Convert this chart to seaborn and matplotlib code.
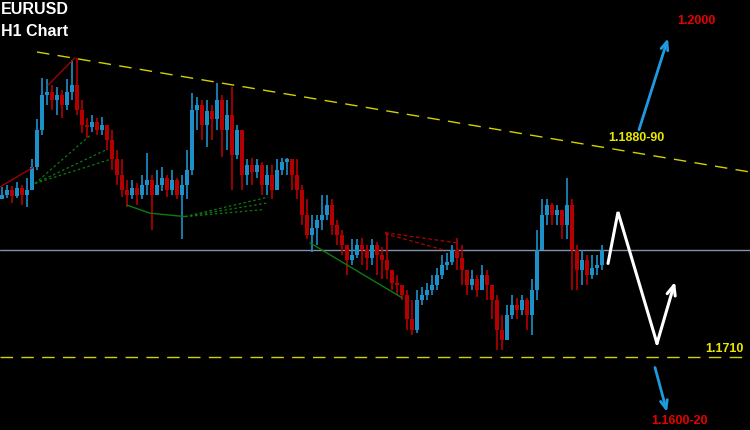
import matplotlib
matplotlib.use("Agg")
import matplotlib.pyplot as plt
import seaborn as sns
import numpy as np
import pandas as pd

# EURUSD H1 candles (prices)
first_open = 1.1848
close = [1.1852, 1.1856, 1.1851, 1.1858, 1.1852, 1.1856, 1.1876, 1.1909, 1.1939, 1.1942,
         1.1935, 1.1939, 1.1931, 1.1942, 1.1948, 1.1926, 1.1913, 1.1911, 1.1916, 1.1909,
         1.1913, 1.1900, 1.1883, 1.1869, 1.1856, 1.1852, 1.1858, 1.1852, 1.1861, 1.1865,
         1.1852, 1.1861, 1.1867, 1.1856, 1.1865, 1.1852, 1.1861, 1.1874, 1.1926, 1.1931,
         1.1913, 1.1925, 1.1918, 1.1935, 1.1909, 1.1922, 1.1887, 1.1909, 1.1869, 1.1878,
         1.1872, 1.1878, 1.1861, 1.1869, 1.1856, 1.1874, 1.1881, 1.1883, 1.1869, 1.1856,
         1.1834, 1.1817, 1.1823, 1.1830, 1.1834, 1.1843, 1.1826, 1.1817, 1.1808, 1.1795,
         1.1799, 1.1808, 1.1804, 1.1797, 1.1808, 1.1799, 1.1795, 1.1786, 1.1775, 1.1773,
         1.1764, 1.1743, 1.1734, 1.1760, 1.1764, 1.1769, 1.1773, 1.1782, 1.1791, 1.1793,
         1.1804, 1.1797, 1.1786, 1.1773, 1.1778, 1.1769, 1.1782, 1.1773, 1.1760, 1.1734,
         1.1725, 1.1747, 1.1756, 1.1751, 1.1760, 1.1747, 1.1769, 1.1804, 1.1834, 1.1843,
         1.1834, 1.1839, 1.1826, 1.1843, 1.1804, 1.1786, 1.1795, 1.1782, 1.1788, 1.1791,
         1.1804]
high = [1.1859, 1.1861, 1.1860, 1.1863, 1.1861, 1.1867, 1.1883, 1.1918, 1.1954, 1.1953,
        1.1948, 1.1946, 1.1944, 1.1953, 1.1970, 1.1972, 1.1935, 1.1919, 1.1922, 1.1919,
        1.1920, 1.1913, 1.1909, 1.1891, 1.1883, 1.1865, 1.1865, 1.1862, 1.1869, 1.1889,
        1.1869, 1.1874, 1.1876, 1.1869, 1.1874, 1.1867, 1.1869, 1.1891, 1.1941, 1.1938,
        1.1935, 1.1935, 1.1931, 1.1950, 1.1939, 1.1935, 1.1946, 1.1913, 1.1887, 1.1883,
        1.1884, 1.1883, 1.1881, 1.1878, 1.1878, 1.1883, 1.1884, 1.1884, 1.1883, 1.1883,
        1.1861, 1.1848, 1.1834, 1.1834, 1.1852, 1.1852, 1.1848, 1.1830, 1.1821, 1.1808,
        1.1813, 1.1813, 1.1814, 1.1808, 1.1813, 1.1811, 1.1806, 1.1819, 1.1786, 1.1782,
        1.1773, 1.1769, 1.1760, 1.1769, 1.1771, 1.1775, 1.1782, 1.1788, 1.1799, 1.1801,
        1.1808, 1.1814, 1.1808, 1.1786, 1.1786, 1.1782, 1.1791, 1.1786, 1.1773, 1.1764,
        1.1747, 1.1756, 1.1764, 1.1762, 1.1764, 1.1762, 1.1778, 1.1821, 1.1848, 1.1848,
        1.1845, 1.1843, 1.1839, 1.1867, 1.1848, 1.1808, 1.1804, 1.1799, 1.1799, 1.1799,
        1.1808]
low = [1.1848, 1.1849, 1.1845, 1.1849, 1.1843, 1.1841, 1.1861, 1.1874, 1.1904, 1.1931,
       1.1926, 1.1922, 1.1919, 1.1926, 1.1935, 1.1922, 1.1906, 1.1902, 1.1907, 1.1904,
       1.1904, 1.1891, 1.1874, 1.1861, 1.1850, 1.1841, 1.1848, 1.1843, 1.1848, 1.1852,
       1.1821, 1.1852, 1.1855, 1.1850, 1.1852, 1.1848, 1.1813, 1.1848, 1.1869, 1.1909,
       1.1900, 1.1894, 1.1900, 1.1909, 1.1885, 1.1891, 1.1856, 1.1883, 1.1856, 1.1861,
       1.1861, 1.1867, 1.1852, 1.1852, 1.1848, 1.1861, 1.1869, 1.1869, 1.1856, 1.1848,
       1.1826, 1.1813, 1.1802, 1.1808, 1.1821, 1.1830, 1.1817, 1.1808, 1.1799, 1.1782,
       1.1791, 1.1797, 1.1791, 1.1786, 1.1791, 1.1782, 1.1778, 1.1778, 1.1769, 1.1764,
       1.1760, 1.1734, 1.1729, 1.1731, 1.1756, 1.1760, 1.1764, 1.1769, 1.1778, 1.1786,
       1.1791, 1.1786, 1.1773, 1.1764, 1.1769, 1.1763, 1.1769, 1.1760, 1.1743, 1.1716,
       1.1716, 1.1729, 1.1743, 1.1743, 1.1747, 1.1734, 1.1729, 1.1760, 1.1804, 1.1826,
       1.1826, 1.1826, 1.1813, 1.1813, 1.1769, 1.1769, 1.1773, 1.1773, 1.1778, 1.1782,
       1.1786]

# levels and drawn studies, as (bar, price) points
resistance_line = [(7.0, 1.1977), (149.6, 1.1872)]
support_level = 1.1710
current_price = 1.1804
red_lines = [[(-0.4, 1.1859), (6.2, 1.1876)], [(9.2, 1.1948), (14.6, 1.1972)]]
red_dashed = [[(76.6, 1.1819), (91.0, 1.1810)], [(76.6, 1.1818), (88.2, 1.1804)]]
green_lines = [[(25.0, 1.1843), (29.6, 1.1836), (36.6, 1.1833)],
               [(61.6, 1.1810), (80.0, 1.1762)]]
green_dotted = [[(6.6, 1.1862), (17.6, 1.1904)], [(6.6, 1.1862), (20.6, 1.1891)],
                [(6.6, 1.1862), (21.6, 1.1883)], [(36.6, 1.1833), (53.2, 1.1850)],
                [(36.6, 1.1833), (53.2, 1.1845)], [(36.6, 1.1833), (52.0, 1.1839)]]
forecast_path = [(121.2, 1.1792), (123.2, 1.1837), (131.0, 1.1722), (134.6, 1.1776)]
target_up = [(127.4, 1.1909), (133.2, 1.1989)]
target_down = [(130.6, 1.1701), (133.0, 1.1662)]

BLUE = "#1e90c8"
RED = "#b40000"
YELLOW = "#d2d200"

sns.set_style("dark", {"axes.facecolor": "black", "figure.facecolor": "black"})

df = pd.DataFrame({"close": close, "high": high, "low": low})
df["open"] = [first_open] + close[:-1]
df["bar"] = np.arange(len(df))
df["up"] = df["close"] >= df["open"]
df["high"] = df[["high", "open", "close"]].max(axis=1)
df["low"] = df[["low", "open", "close"]].min(axis=1)
colors = np.where(df["up"], BLUE, RED)

fig = plt.figure(figsize=(7.5, 4.3), dpi=100)
ax = fig.add_axes([0, 0, 1, 1])
ax.set_facecolor("black")

ax.vlines(df["bar"], df["low"], df["high"], colors=colors, lw=1.2, zorder=3)
body = np.maximum((df["close"] - df["open"]).abs(), 0.00004)
ax.bar(df["bar"], body, bottom=df[["open", "close"]].min(axis=1),
       width=0.7, color=colors, linewidth=0, zorder=3)

# horizontal levels
ax.axhline(current_price, color="#8391a6", lw=1.0, zorder=2)
ax.axhline(support_level, color=YELLOW, lw=1.0, dashes=(9, 6), zorder=2)
(x0, y0), (x1, y1) = resistance_line
ax.plot([x0, x1], [y0, y1], color=YELLOW, lw=1.0, dashes=(9, 6), zorder=2)

for seg in red_lines:
    xs, ys = zip(*seg)
    ax.plot(xs, ys, color="#b00000", lw=0.9, zorder=4)
for seg in red_dashed:
    xs, ys = zip(*seg)
    ax.plot(xs, ys, color="#b00000", lw=0.9, dashes=(3, 2), zorder=4)
for seg in green_lines:
    xs, ys = zip(*seg)
    sns.lineplot(x=list(xs), y=list(ys), ax=ax, color="#0f7a0f", lw=1.0, sort=False, zorder=4)
for seg in green_dotted:
    xs, ys = zip(*seg)
    ax.plot(xs, ys, color="#0f7a0f", lw=0.9, dashes=(2, 2), zorder=4)

# forecast zigzag
fx, fy = zip(*forecast_path)
ax.plot(fx[:-1], fy[:-1], color="white", lw=2.2, solid_joinstyle="miter", zorder=5)
ax.annotate("", xy=forecast_path[-1], xytext=forecast_path[-2],
            arrowprops=dict(arrowstyle="->,head_length=0.7,head_width=0.3",
                            color="white", lw=2.2, shrinkA=0, shrinkB=0), zorder=5)
for start, end in [target_up, target_down]:
    ax.annotate("", xy=end, xytext=start,
                arrowprops=dict(arrowstyle="->,head_length=0.6,head_width=0.25",
                                color="#1e9be0", lw=2.0, shrinkA=0, shrinkB=0), zorder=5)

ax.set_xlim(-0.4, 149.6)
ax.set_ylim(1.16463, 1.20225)
ax.set_xticks([])
ax.set_yticks([])
for s in ax.spines.values():
    s.set_visible(False)

font = "Liberation Sans"


def label(px, py, text, color, size, ha="center"):
    fig.text(px / 750, 1 - py / 430, text, color=color, fontsize=size,
             fontweight="bold", family=font, ha=ha, va="center")


label(1, 9, "EURUSD", "white", 11.5, ha="left")
label(1, 31, "H1 Chart", "white", 11.5, ha="left")
label(696, 21, "1.2000", "#e60000", 9)
label(636, 138, "1.1880-90", "#e8e800", 9)
label(724, 349, "1.1710", "#e8e800", 9)
label(679, 421, "1.1600-20", "#e60000", 9)

fig.savefig("out.png", dpi=100, facecolor="black")
